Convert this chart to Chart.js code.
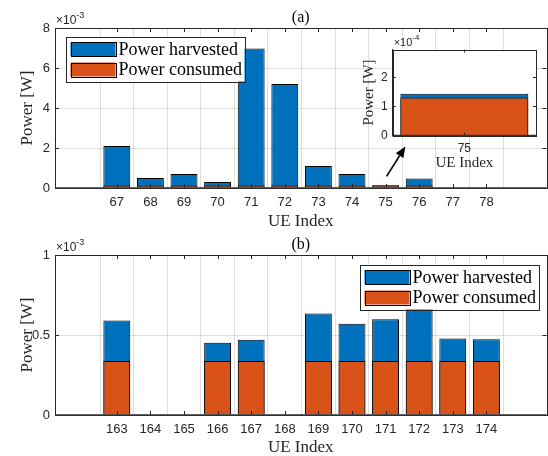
<!DOCTYPE html>
<html>
<head>
<meta charset="utf-8">
<script src="https://cdn.jsdelivr.net/npm/chart.js@4.4.1/dist/chart.umd.min.js"></script>
<style>
html, body { margin: 0; padding: 0; background: #fff; }
#wrap { position: relative; width: 548px; height: 456px; overflow: hidden; }
#wrap > div { position: absolute; }
</style>
</head>
<body>
<div id="wrap">
  <div style="left:0;top:0;width:548px;height:232px"><canvas id="chartA"></canvas></div>
  <div style="left:0;top:232px;width:548px;height:224px"><canvas id="chartB"></canvas></div>
  <div style="left:340px;top:30px;width:208px;height:145px"><canvas id="chartInset"></canvas></div>
</div>
<script>
// (a) UE 67..78
const ueA = [67, 68, 69, 70, 71, 72, 73, 74, 75, 76, 77, 78];
const harvestedA = [2.1e-3, 0.5e-3, 0.7e-3, 0.3e-3, 6.97e-3, 5.2e-3, 1.1e-3, 0.7e-3, 0.143e-3, 0.47e-3, 0, 0];
const consumedA  = [0.13e-3, 0.13e-3, 0.13e-3, 0.13e-3, 0.13e-3, 0.13e-3, 0.13e-3, 0.13e-3, 0.13e-3, 0.13e-3, 0, 0];

// (b) UE 163..174
const ueB = [163, 164, 165, 166, 167, 168, 169, 170, 171, 172, 173, 174];
const harvestedB = [0.59e-3, 0, 0, 0.452e-3, 0.471e-3, 0, 0.634e-3, 0.571e-3, 0.598e-3, 0.70e-3, 0.478e-3, 0.473e-3];
const consumedB  = [0.338e-3, 0, 0, 0.338e-3, 0.338e-3, 0, 0.338e-3, 0.338e-3, 0.338e-3, 0.338e-3, 0.338e-3, 0.338e-3];

// inset zooms on one UE of (a)
const ueInset = [75];

const yTicksA = [0, 2e-3, 4e-3, 6e-3, 8e-3];
const yTicksB = [0, 0.5e-3, 1e-3];
const yTicksInset = [0, 1e-4, 2e-4];

const BLUE = '#0072BD', ORANGE = '#D95319', AX = '#262626', GRID = 'rgba(38,38,38,0.15)';
const SERIF = '"Liberation Serif", "Times New Roman", serif';
const SANS = '"Liberation Sans", Arial, sans-serif';

function barData(ue, harv, cons){
  const common = { borderColor: '#000', borderWidth: 1, borderSkipped: 'start', grouped: false, categoryPercentage: 1 };
  return { datasets: [
    Object.assign({ label: 'Power harvested', data: ue.map((u,i)=>({x:u, y:harv[i]})), backgroundColor: BLUE, order: 1 }, common),
    Object.assign({ label: 'Power consumed', data: ue.map((u,i)=>({x:u, y:cons[i]})), backgroundColor: ORANGE, order: 0 }, common)
  ]};
}

// matlab-ish axes: box, inward ticks, title, exponent, legend, arrow
const matlabAxes = {
  id: 'matlabAxes',
  beforeDraw(chart, args, o){
    if(!o.whiteBg) return;
    const {ctx, chartArea:a} = chart;
    ctx.save(); ctx.fillStyle = '#fff'; ctx.fillRect(a.left, a.top, a.right-a.left, a.bottom-a.top); ctx.restore();
  },
  afterDatasetsDraw(chart, args, o){
    const {ctx, chartArea:a, scales:{x, y}} = chart;
    const tl = o.tickLen || 4;
    ctx.save();
    ctx.strokeStyle = AX; ctx.lineWidth = 1;
    ctx.beginPath();
    x.ticks.forEach(t=>{ const px = Math.round(x.getPixelForValue(t.value))+0.5;
      ctx.moveTo(px, a.bottom); ctx.lineTo(px, a.bottom-tl); ctx.moveTo(px, a.top); ctx.lineTo(px, a.top+tl); });
    y.ticks.forEach(t=>{ const py = Math.round(y.getPixelForValue(t.value))+0.5;
      ctx.moveTo(a.left, py); ctx.lineTo(a.left+tl, py); ctx.moveTo(a.right, py); ctx.lineTo(a.right-tl, py); });
    ctx.stroke();
    ctx.strokeRect(Math.round(a.left)+0.5, Math.round(a.top)+0.5, Math.round(a.right-a.left), Math.round(a.bottom-a.top));
    // bar baseline
    ctx.lineWidth = 1.5; ctx.strokeStyle = '#333';
    ctx.beginPath(); ctx.moveTo(a.left, y.getPixelForValue(0)); ctx.lineTo(a.right, y.getPixelForValue(0)); ctx.stroke();
    ctx.restore();
  },
  afterDraw(chart, args, o){
    const {ctx, chartArea:a, scales:{x, y}} = chart;
    ctx.save();
    // title
    if(o.title){
      ctx.fillStyle = '#000'; ctx.font = '16px ' + SERIF; ctx.textAlign = 'center'; ctx.textBaseline = 'middle';
      ctx.fillText(o.title, (a.left+a.right)/2, a.top - 10);
    }
    // exponent
    if(o.exp){
      ctx.fillStyle = AX; ctx.textAlign = 'left'; ctx.textBaseline = 'alphabetic';
      ctx.font = (o.expSize||12) + 'px ' + SANS;
      const base = '\u00d710';
      ctx.fillText(base, a.left + 1, a.top - 4);
      const w = ctx.measureText(base).width;
      ctx.font = Math.round((o.expSize||12)*0.72) + 'px ' + SANS;
      ctx.fillText(o.exp, a.left + 1 + w, a.top - 10);
    }
    // arrow, given in data units
    if(o.arrow){
      const x0 = x.getPixelForValue(o.arrow.from[0]), y0 = y.getPixelForValue(o.arrow.from[1]);
      const x1 = x.getPixelForValue(o.arrow.to[0]), y1 = y.getPixelForValue(o.arrow.to[1]);
      const ang = Math.atan2(y1-y0, x1-x0), hl = 11, hw = 4.5;
      const bx = x1 - hl*Math.cos(ang), by = y1 - hl*Math.sin(ang);
      ctx.strokeStyle = '#000'; ctx.fillStyle = '#000'; ctx.lineWidth = 1.6;
      ctx.beginPath(); ctx.moveTo(x0, y0); ctx.lineTo(bx, by); ctx.stroke();
      ctx.beginPath(); ctx.moveTo(x1, y1);
      ctx.lineTo(bx + hw*Math.sin(ang), by - hw*Math.cos(ang));
      ctx.lineTo(bx - hw*Math.sin(ang), by + hw*Math.cos(ang));
      ctx.closePath(); ctx.fill();
    }
    // legend
    if(o.legend){
      const L = o.legend, W = 179, H = 45;
      const lx = L.corner === 'right' ? a.right - L.dx - W : a.left + L.dx;
      const ly = a.top + L.dy;
      ctx.fillStyle = '#fff'; ctx.fillRect(lx, ly, W, H);
      ctx.strokeStyle = AX; ctx.lineWidth = 1; ctx.strokeRect(Math.round(lx)+0.5, Math.round(ly)+0.5, W, H);
      chart.data.datasets.forEach((ds, i)=>{
        const cy = ly + 12.5 + i*20.5;
        ctx.fillStyle = ds.backgroundColor; ctx.fillRect(lx+5, cy-7, 45, 14);
        ctx.strokeStyle = '#000'; ctx.strokeRect(Math.round(lx+5)+0.5, Math.round(cy-7)+0.5, 45, 14);
        ctx.fillStyle = '#000'; ctx.font = '18px ' + SERIF; ctx.textAlign = 'left'; ctx.textBaseline = 'middle';
        ctx.fillText(ds.label, lx + 53, cy + 1);
      });
    }
    ctx.restore();
  }
};

function makeChart(id, ue, harv, cons, cfg){
  return new Chart(document.getElementById(id), {
    type: 'bar',
    data: barData(ue, harv, cons),
    plugins: [matlabAxes],
    options: {
      responsive: true, maintainAspectRatio: false, animation: false,
      layout: { padding: cfg.padding },
      datasets: { bar: { barPercentage: cfg.barPct } },
      plugins: { legend: { display: false }, tooltip: { enabled: false }, matlabAxes: cfg.deco },
      scales: {
        x: {
          type: 'linear', min: cfg.xMin, max: cfg.xMax,
          afterBuildTicks: s => { s.ticks = ue.map(v => ({ value: v })); },
          afterFit: s => { s.height = cfg.xHeight; },
          grid: { display: cfg.grid, color: GRID, drawTicks: false },
          border: { color: AX, width: 1 },
          ticks: { autoSkip: false, maxRotation: 0, padding: cfg.xTickPad, color: AX,
                   font: { family: SANS, size: cfg.tickSize }, callback: v => String(v) },
          title: { display: true, text: 'UE Index', color: AX,
                   font: { family: SERIF, size: cfg.labelSize, lineHeight: 1 }, padding: { top: 0, bottom: cfg.xTitlePad } }
        },
        y: {
          min: 0, max: cfg.yMax,
          afterBuildTicks: s => { s.ticks = cfg.yTicks.map(v => ({ value: v })); },
          afterFit: s => { s.width = cfg.yWidth; },
          grid: { display: cfg.grid, color: GRID, drawTicks: false },
          border: { color: AX, width: 1 },
          ticks: { padding: cfg.yTickPad, color: AX, font: { family: SANS, size: cfg.tickSize },
                   callback: v => String(+(v * cfg.yScale).toFixed(3)) },
          title: { display: true, text: 'Power [W]', color: AX,
                   font: { family: SERIF, size: cfg.labelSize, lineHeight: 1 }, padding: { top: cfg.yTitlePad, bottom: 0 } }
        }
      }
    }
  });
}

makeChart('chartA', ueA, harvestedA, consumedA, {
  padding: { top: 28, right: 1.5, left: 0, bottom: 0 },
  xMin: 65.77, xMax: 79.18, xHeight: 44, yMax: 8e-3, yTicks: yTicksA, yScale: 1e3, yWidth: 55,
  grid: true, barPct: 0.8, tickSize: 13, labelSize: 17, xTickPad: 7, yTickPad: 5, xTitlePad: 2, yTitlePad: 19,
  deco: { title: '(a)', exp: '-3', expSize: 12, tickLen: 4,
          legend: { corner: 'left', dx: 10.5, dy: 8.5 },
          arrow: { from: [75.03, 0.58e-3], to: [75.59, 2.08e-3] } }
});

makeChart('chartB', ueB, harvestedB, consumedB, {
  padding: { top: 23, right: 1.5, left: 0, bottom: 0 },
  xMin: 65.77 + 96, xMax: 79.18 + 96, xHeight: 41, yMax: 1e-3, yTicks: yTicksB, yScale: 1e3, yWidth: 55,
  grid: true, barPct: 0.8, tickSize: 13, labelSize: 17, xTickPad: 7, yTickPad: 5, xTitlePad: 0, yTitlePad: 19,
  deco: { title: '(b)', exp: '-3', expSize: 12, tickLen: 4,
          legend: { corner: 'right', dx: 8, dy: 9.5 } }
});

const iIns = ueA.indexOf(ueInset[0]);
makeChart('chartInset', ueInset, [harvestedA[iIns]], [consumedA[iIns]], {
  padding: { top: 19.5, right: 12, left: 0, bottom: 0 },
  xMin: 74.5, xMax: 75.5, xHeight: 39.5, yMax: 2.95e-4, yTicks: yTicksInset, yScale: 1e4, yWidth: 52.7,
  grid: false, barPct: 0.893, tickSize: 12, labelSize: 15, xTickPad: 6, yTickPad: 5, xTitlePad: 4, yTitlePad: 22,
  deco: { exp: '-4', expSize: 11, tickLen: 3, whiteBg: true }
});
</script>
</body>
</html>
